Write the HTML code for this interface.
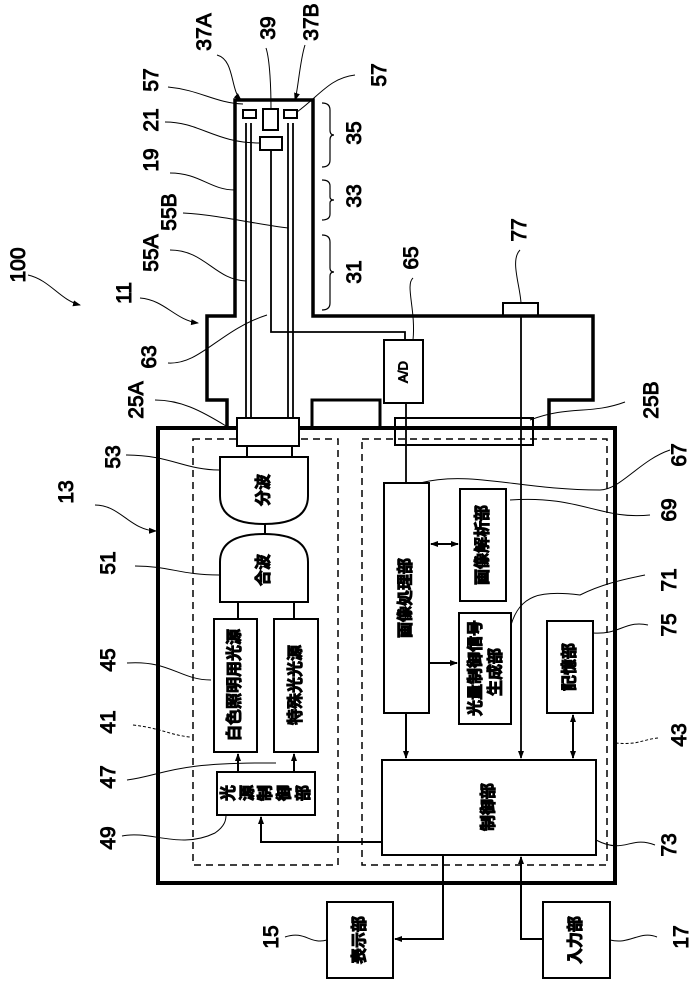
<!DOCTYPE html>
<html><head><meta charset="utf-8"><style>
html,body{margin:0;padding:0;background:#fff}
svg{display:block}
text{font-family:"Liberation Sans","Noto Sans CJK JP",sans-serif;fill:#000}
.n{font-size:21px;font-weight:normal}
.c{font-size:16px;font-weight:bold}
</style></head><body>
<svg width="694" height="994" viewBox="0 0 694 994" xmlns="http://www.w3.org/2000/svg">
<defs><marker id="a" markerWidth="8" markerHeight="8" refX="7" refY="4" orient="auto" markerUnits="userSpaceOnUse"><path d="M0,1 L8,4 L0,7 Z" fill="#000"/></marker></defs>
<g fill="none" stroke="#000">
<path d="M227,428 L227,400 L207,400 L207,316 L235,316 L235,100 L313,100 L313,316 L593,316 L593,400 L549,400 L549,428" stroke-width="3.5"/>
<path d="M312,428 L312,400 L380,400 L380,428" stroke-width="3"/>
<rect x="158" y="428" width="457" height="455" stroke-width="4"/>
<rect x="193" y="439" width="145" height="426" stroke-width="1.5" stroke-dasharray="7,5"/>
<rect x="362" y="439" width="245" height="426" stroke-width="1.5" stroke-dasharray="7,5"/>
<rect x="237" y="418" width="62" height="28" fill="#fff" stroke-width="2"/>
<rect x="395" y="418" width="138" height="27" stroke-width="2"/>
<g stroke-width="1.8">
<line x1="246" y1="123" x2="246" y2="418"/><line x1="251" y1="123" x2="251" y2="418"/>
<line x1="288" y1="123" x2="288" y2="418"/><line x1="293" y1="123" x2="293" y2="418"/>
</g>
<rect x="243" y="110" width="13" height="8" stroke-width="2"/>
<rect x="284" y="110" width="13" height="8" stroke-width="2"/>
<rect x="263" y="109" width="15" height="21" stroke-width="2"/>
<rect x="260" y="137" width="22" height="13" stroke-width="2"/>
<path d="M271,150 L271,332 L405,332 L405,340" stroke-width="1.8"/>
<rect x="384" y="340" width="39" height="63" stroke-width="2"/>
<line x1="406" y1="403" x2="406" y2="483" stroke-width="1.8"/>
<rect x="503" y="303" width="35" height="13" stroke-width="2"/>
<line x1="521" y1="316" x2="521" y2="758" stroke-width="1.8" marker-end="url(#a)"/>
<g stroke-width="1.2">
<path d="M322,103 Q330,103 330,110 L330,130 Q330,135 334,135 Q330,135 330,140 L330,160 Q330,167 322,167"/>
<path d="M322,180 Q330,180 330,186 L330,197 Q330,200 334,200 Q330,200 330,203 L330,214 Q330,220 322,220"/>
<path d="M322,235 Q330,235 330,242 L330,268 Q330,272 334,272 Q330,272 330,276 L330,303 Q330,310 322,310"/>
</g>
<g stroke-width="2">
<line x1="247" y1="446" x2="247" y2="457"/><line x1="292" y1="446" x2="292" y2="457"/>
<path d="M220,457 L308,457 L308,496 Q308,524 264,524 Q220,524 220,496 Z"/>
<line x1="265" y1="524" x2="265" y2="534"/>
<path d="M220,602 L308,602 L308,562 Q308,534 264,534 Q220,534 220,562 Z"/>
<line x1="238" y1="602" x2="238" y2="619"/><line x1="294" y1="602" x2="294" y2="619"/>
<rect x="214" y="619" width="43" height="133"/>
<rect x="274" y="619" width="44" height="133"/>
<rect x="217" y="772" width="98" height="43"/>
<line x1="238" y1="772" x2="238" y2="754" marker-end="url(#a)"/>
<line x1="294" y1="772" x2="294" y2="754" marker-end="url(#a)"/>
<path d="M383,842 L261,842 L261,817" marker-end="url(#a)"/>
<rect x="384" y="483" width="45" height="230"/>
<rect x="460" y="489" width="46" height="112"/>
<rect x="459" y="613" width="52" height="111"/>
<rect x="547" y="621" width="46" height="92"/>
<rect x="382" y="760" width="214" height="95"/>
<line x1="431" y1="544" x2="458" y2="544" marker-end="url(#a)"/>
<line x1="458" y1="544" x2="431" y2="544" marker-end="url(#a)"/>
<line x1="429" y1="663" x2="457" y2="663" marker-end="url(#a)"/>
<line x1="573" y1="715" x2="573" y2="758" marker-end="url(#a)"/>
<line x1="573" y1="758" x2="573" y2="715" marker-end="url(#a)"/>
<line x1="406" y1="713" x2="406" y2="758" marker-end="url(#a)"/>
<rect x="327" y="902" width="66" height="76"/>
<rect x="543" y="902" width="67" height="76"/>
<path d="M443,855 L443,939 L395,939" marker-end="url(#a)"/>
<path d="M543,939 L521,939 L521,857" marker-end="url(#a)"/>
</g>
<g fill="none" stroke="#000" stroke-width="1">
<path d="M28,275 C50,280 60,300 80,305" marker-end="url(#a)"/>
<path d="M140,298 C165,300 175,320 198,323" marker-end="url(#a)"/>
<path d="M95,505 C120,505 130,530 156,531" marker-end="url(#a)"/>
<path d="M168,87 C200,90 215,103 243,104"/>
<path d="M165,122 C200,122 215,143 260,143"/>
<path d="M170,173 C200,173 210,190 235,190"/>
<path d="M183,213 C220,215 260,225 288,228"/>
<path d="M170,250 C205,250 215,280 246,281"/>
<path d="M168,363 C200,365 220,330 267,315"/>
<path d="M155,400 C180,400 200,410 226,426"/>
<path d="M126,455 C170,455 185,470 219,470"/>
<path d="M135,566 C170,566 180,575 219,575"/>
<path d="M127,663 C170,660 180,680 211,680"/>
<path d="M133,725 C160,728 170,735 190,737" stroke-dasharray="3,2"/>
<path d="M127,780 C165,775 170,762 276,763"/>
<path d="M122,836 C150,830 180,850 215,833 C225,826 226,820 226,815"/>
<path d="M217,55 C235,60 230,90 241,100" marker-end="url(#a)"/>
<path d="M266,48 C270,60 271,90 271,109"/>
<path d="M305,45 C300,60 298,90 295,100" marker-end="url(#a)"/>
<path d="M355,75 C330,78 320,95 297,112"/>
<path d="M413,278 C405,285 416,310 413,340"/>
<path d="M520,250 C510,260 520,285 521,303"/>
<path d="M625,402 C590,415 570,405 530,420"/>
<path d="M670,450 C640,460 620,490 600,490 C520,490 470,470 420,483"/>
<path d="M650,515 C600,520 580,495 510,500"/>
<path d="M645,575 C620,580 600,585 580,595 C540,590 520,595 511,625"/>
<path d="M648,625 C625,620 620,635 593,633"/>
<path d="M658,738 C640,740 640,745 615,743" stroke-dasharray="3,2"/>
<path d="M655,845 C630,835 625,855 596,840"/>
<path d="M285,937 C305,930 310,945 327,940"/>
<path d="M657,937 C640,930 630,945 610,940"/>
</g>
<g class="n" text-anchor="middle">
<text transform="translate(25,265) rotate(-90)">100</text>
<text transform="translate(131,293) rotate(-90)">11</text>
<text transform="translate(156,357) rotate(-90)">63</text>
<text transform="translate(143,400) rotate(-90)">25A</text>
<text transform="translate(120,457) rotate(-90)">53</text>
<text transform="translate(73,492) rotate(-90)">13</text>
<text transform="translate(115,563) rotate(-90)">51</text>
<text transform="translate(115,660) rotate(-90)">45</text>
<text transform="translate(115,722) rotate(-90)">41</text>
<text transform="translate(115,777) rotate(-90)">47</text>
<text transform="translate(115,838) rotate(-90)">49</text>
<text transform="translate(158,253) rotate(-90)">55A</text>
<text transform="translate(176,212) rotate(-90)">55B</text>
<text transform="translate(158,160) rotate(-90)">19</text>
<text transform="translate(158,120) rotate(-90)">21</text>
<text transform="translate(158,80) rotate(-90)">57</text>
<text transform="translate(211,32) rotate(-90)">37A</text>
<text transform="translate(275,28) rotate(-90)">39</text>
<text transform="translate(318,22) rotate(-90)">37B</text>
<text transform="translate(386,75) rotate(-90)">57</text>
<text transform="translate(361,133) rotate(-90)">35</text>
<text transform="translate(361,196) rotate(-90)">33</text>
<text transform="translate(361,272) rotate(-90)">31</text>
<text transform="translate(418,258) rotate(-90)">65</text>
<text transform="translate(526,230) rotate(-90)">77</text>
<text transform="translate(658,400) rotate(-90)">25B</text>
<text transform="translate(686,455) rotate(-90)">67</text>
<text transform="translate(676,510) rotate(-90)">69</text>
<text transform="translate(676,580) rotate(-90)">71</text>
<text transform="translate(676,625) rotate(-90)">75</text>
<text transform="translate(686,735) rotate(-90)">43</text>
<text transform="translate(676,845) rotate(-90)">73</text>
<text transform="translate(278,937) rotate(-90)">15</text>
<text transform="translate(688,937) rotate(-90)">17</text>
</g>
<g class="c" text-anchor="middle" dominant-baseline="central">
<text transform="translate(403,372) rotate(-90)" font-size="13" font-weight="normal">A/D</text>
<text transform="translate(264,490) rotate(-90)">分波</text>
<text transform="translate(264,570) rotate(-90)">合波</text>
<text transform="translate(235,685) rotate(-90)">白色照明用光源</text>
<text transform="translate(296,685) rotate(-90)">特殊光光源</text>
<text transform="translate(229,793) rotate(-90)">光</text>
<text transform="translate(248,793) rotate(-90)">源</text>
<text transform="translate(266,793) rotate(-90)">制</text>
<text transform="translate(285,793) rotate(-90)">御</text>
<text transform="translate(304,793) rotate(-90)">部</text>
<text transform="translate(406,598) rotate(-90)">画像処理部</text>
<text transform="translate(483,545) rotate(-90)">画像解析部</text>
<text transform="translate(476,668) rotate(-90)">光量制御信号</text>
<text transform="translate(496,672) rotate(-90)">生成部</text>
<text transform="translate(570,667) rotate(-90)">記憶部</text>
<text transform="translate(489,807) rotate(-90)">制御部</text>
<text transform="translate(360,940) rotate(-90)">表示部</text>
<text transform="translate(576,940) rotate(-90)">入力部</text>
</g>
</svg>
</body></html>
